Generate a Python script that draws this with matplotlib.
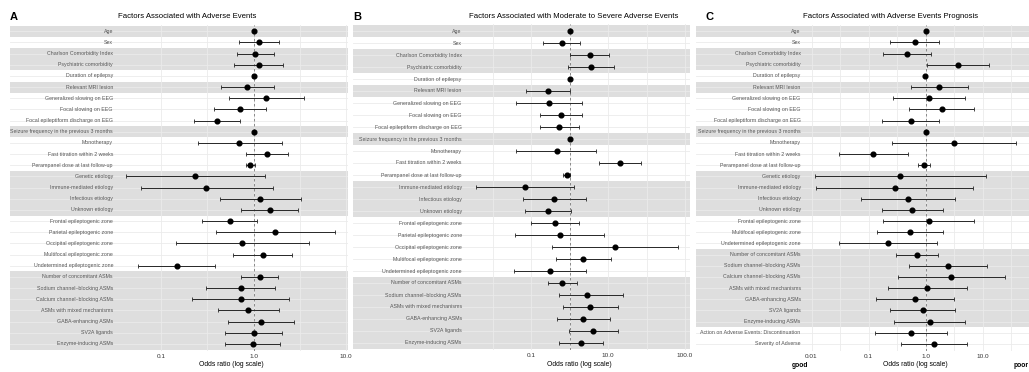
import matplotlib
matplotlib.use("Agg")
import matplotlib.pyplot as plt
import matplotlib.transforms as mtransforms
import numpy as np

plt.rcParams['font.family'] = ['Liberation Sans', 'DejaVu Sans']

# ---------------- Data ----------------
titles = ["Factors Associated with Adverse Events",
          "Factors Associated with Moderate to Severe Adverse Events",
          "Factors Associated with Adverse Events Prognosis"]
panel_letters = ["A", "B", "C"]

labels_A = ["Age", "Sex", "Charlson Comorbidity Index", "Psychiatric comorbidity",
            "Duration of epilepsy", "Relevant MRI lesion", "Generalized slowing on EEG",
            "Focal slowing on EEG", "Focal epileptiform discharge on EEG",
            "Seizure frequency in the previous 3 months", "Monotherapy",
            "Fast titration within 2 weeks", "Perampanel dose at last follow-up",
            "Genetic etiology", "Immune-mediated etiology", "Infectious etiology",
            "Unknown etiology", "Frontal epileptogenic zone", "Parietal epileptogenic zone",
            "Occipital epileptogenic zone", "Multifocal epileptogenic zone",
            "Undetermined epileptogenic zone", "Number of concomitant ASMs",
            "Sodium channel\u2013blocking ASMs", "Calcium channel\u2013blocking ASMs",
            "ASMs with mixed mechanisms", "GABA-enhancing ASMs", "SV2A ligands",
            "Enzyme-inducing ASMs"]
or_A = [1.00, 1.15, 1.04, 1.15, 1.00, 0.85, 1.37, 0.72, 0.40, 1.00, 0.70, 1.39, 0.92,
        0.235, 0.31, 1.18, 1.49, 0.56, 1.72, 0.76, 1.26, 0.150, 1.17, 0.73, 0.73, 0.87,
        1.22, 1.00, 0.98]
lo_A = [0.98, 0.69, 0.66, 0.62, 0.96, 0.44, 0.54, 0.37, 0.226, 0.98, 0.25, 0.83, 0.83,
        0.042, 0.061, 0.43, 0.73, 0.28, 0.39, 0.145, 0.60, 0.057, 0.73, 0.31, 0.218, 0.41,
        0.53, 0.49, 0.49]
hi_A = [1.02, 1.91, 1.65, 2.11, 1.05, 1.65, 3.48, 1.36, 0.72, 1.02, 2.03, 2.34, 1.04,
        1.32, 1.62, 3.26, 3.00, 1.10, 7.66, 3.97, 2.60, 0.385, 1.82, 1.70, 2.45, 1.90,
        2.76, 2.03, 1.95]
shaded_A = [1, 0, 1, 1, 0, 1, 0, 0, 0, 1, 0, 0, 0, 1, 1, 1, 1, 0, 0, 0, 0, 0,
            1, 1, 1, 1, 1, 1, 1]

labels_B = ["Age", "Sex", "Charlson Comorbidity Index", "Psychiatric comorbidity",
            "Duration of epilepsy", "Relevant MRI lesion", "Generalized slowing on EEG",
            "Focal slowing on EEG", "Focal epileptiform discharge on EEG",
            "Seizure frequency in the previous 3 months", "Monotherapy",
            "Fast titration within 2 weeks", "Perampanel dose at last follow-up",
            "Immune-mediated etiology", "Infectious etiology", "Unknown etiology",
            "Frontal epileptogenic zone", "Parietal epileptogenic zone",
            "Occipital epileptogenic zone", "Multifocal epileptogenic zone",
            "Undetermined epileptogenic zone", "Number of concomitant ASMs",
            "Sodium channel\u2013blocking ASMs", "ASMs with mixed mechanisms",
            "GABA-enhancing ASMs", "SV2A ligands", "Enzyme-inducing ASMs"]
or_B = [1.00, 0.64, 3.32, 3.67, 1.00, 0.28, 0.295, 0.60, 0.54, 1.00, 0.46, 21.0, 0.84,
        0.069, 0.40, 0.28, 0.42, 0.55, 15.0, 2.29, 0.31, 0.65, 2.78, 3.39, 2.29, 4.12, 1.99]
lo_B = [0.96, 0.21, 1.00, 0.94, 0.96, 0.073, 0.041, 0.167, 0.17, 0.96, 0.042, 5.9, 0.66,
        0.0038, 0.061, 0.069, 0.098, 0.038, 0.36, 0.45, 0.037, 0.28, 0.53, 0.66, 0.46,
        0.97, 0.52]
hi_B = [1.04, 1.84, 10.4, 14.0, 1.04, 1.06, 2.15, 2.15, 1.77, 1.04, 4.92, 74.0, 1.02,
        1.34, 2.62, 1.08, 1.77, 8.05, 650.0, 11.9, 2.62, 1.54, 24.7, 17.7, 11.5, 17.7, 7.6]
shaded_B = [1, 0, 1, 1, 0, 1, 0, 0, 0, 1, 0, 0, 0, 1, 1, 1, 0, 0, 0, 0, 0,
            1, 1, 1, 1, 1, 1]

labels_C = ["Age", "Sex", "Charlson Comorbidity Index", "Psychiatric comorbidity",
            "Duration of epilepsy", "Relevant MRI lesion", "Generalized slowing on EEG",
            "Focal slowing on EEG", "Focal epileptiform discharge on EEG",
            "Seizure frequency in the previous 3 months", "Monotherapy",
            "Fast titration within 2 weeks", "Perampanel dose at last follow-up",
            "Genetic etiology", "Immune-mediated etiology", "Infectious etiology",
            "Unknown etiology", "Frontal epileptogenic zone", "Multifocal epileptogenic zone",
            "Undetermined epileptogenic zone", "Number of concomitant ASMs",
            "Sodium channel\u2013blocking ASMs", "Calcium channel\u2013blocking ASMs",
            "ASMs with mixed mechanisms", "GABA-enhancing ASMs", "SV2A ligands",
            "Enzyme-inducing ASMs", "Action on Adverse Events: Discontinuation",
            "Severity of Adverse"]
or_C = [1.00, 0.66, 0.48, 3.76, 0.98, 1.75, 1.16, 1.93, 0.55, 1.00, 3.2, 0.12, 0.95,
        0.36, 0.29, 0.49, 0.59, 1.13, 0.53, 0.217, 0.71, 2.45, 2.8, 1.08, 0.66, 0.89,
        1.19, 0.555, 1.42]
lo_C = [0.97, 0.242, 0.183, 1.08, 0.95, 0.555, 0.27, 0.52, 0.175, 0.97, 0.26, 0.030,
        0.74, 0.0114, 0.0122, 0.074, 0.171, 0.178, 0.14, 0.030, 0.30, 0.52, 0.325, 0.223,
        0.138, 0.235, 0.284, 0.13, 0.37]
hi_C = [1.03, 1.75, 1.24, 13.1, 1.02, 5.55, 4.92, 7.16, 1.73, 1.03, 39.2, 0.485, 1.21,
        11.6, 6.78, 3.29, 2.06, 7.16, 2.06, 1.6, 1.64, 12.2, 25.2, 5.4, 3.16, 3.34, 4.85,
        2.42, 5.4]
shaded_C = [1, 0, 1, 1, 0, 1, 0, 0, 0, 1, 0, 0, 0, 1, 1, 1, 1, 0, 0, 0,
            1, 1, 1, 1, 1, 1, 1, 0, 0]

ticks_A = [0.1, 1, 10]
ticklabels_A = ["0.1", "1.0", "10.0"]
ticks_B = [0.1, 10, 1000]
ticklabels_B = ["0.1", "10.0", "100.0"]
ticks_C = [0.01, 0.1, 1, 10]
ticklabels_C = ["0.01", "0.1", "1.0", "10.0"]

grid_A = [0.1, 10**-0.5, 1, 10**0.5, 10]
grid_B = [0.01, 0.1, 1, 10, 100, 1000]
grid_C = [0.01, 10**-1.5, 0.1, 10**-0.5, 1, 10**0.5, 10, 10**1.5]

xlabel = "Odds ratio (log scale)"

# ---------------- Layout (pixels) ----------------
W, H = 1029, 372
fig = plt.figure(figsize=(W / 100, H / 100), dpi=100)

def fx(px):
    return px / W

def fy(py):
    return 1 - py / H

panels = [
    dict(labels=labels_A, orv=or_A, lo=lo_A, hi=hi_A, shaded=shaded_A,
         ticks=ticks_A, tl=ticklabels_A, grid=grid_A,
         x0=10, x1=348, y0=24.6, y1=350.7, one=253.5, dec=92.5, labx=113,
         title_x=187.6, letter_x=10, xlab_x=231),
    dict(labels=labels_B, orv=or_B, lo=lo_B, hi=hi_B, shaded=shaded_B,
         ticks=ticks_B, tl=ticklabels_B, grid=grid_B,
         x0=353, x1=690, y0=23.8, y1=350.2, one=569.5, dec=38.5, labx=461.7,
         title_x=574, letter_x=353, xlab_x=579),
    dict(labels=labels_C, orv=or_C, lo=lo_C, hi=hi_C, shaded=shaded_C,
         ticks=ticks_C, tl=ticklabels_C, grid=grid_C,
         x0=696, x1=1029, y0=24.6, y1=350.7, one=925.5, dec=57.0, labx=800.7,
         title_x=891, letter_x=706, xlab_x=915),
]

SHADE = '#DEDEDE'
GRID = '#EBEBEB'

for k, p in enumerate(panels):
    ax = fig.add_axes([fx(p['x0']), fy(p['y1']), fx(p['x1'] - p['x0']),
                       (p['y1'] - p['y0']) / H])
    n = len(p['labels'])
    ax.set_xscale('log')
    xmin = 10 ** ((p['x0'] - p['one']) / p['dec'])
    xmax = 10 ** ((p['x1'] - p['one']) / p['dec'])
    ax.set_xlim(xmin, xmax)
    ax.set_ylim(n + 0.6, 0.4)
    ys = np.arange(1, n + 1)

    for y, s in zip(ys, p['shaded']):
        if s:
            ax.axhspan(y - 0.5, y + 0.5, color=SHADE, lw=0, zorder=0)
    for y in ys:
        ax.axhline(y, color=GRID, lw=0.6, zorder=1)
    for g in p['grid']:
        ax.axvline(g, color=GRID, lw=0.6, zorder=1)
    ax.axvline(1, color='#7A7A7A', lw=0.6, ls=(0, (3, 3)), zorder=2)

    orv = np.array(p['orv'])
    lo = np.array(p['lo'])
    hi = np.array(p['hi'])
    ax.errorbar(orv, ys, xerr=[orv - lo, hi - orv], fmt='o', color='black',
                ecolor='#262626', elinewidth=0.7, capsize=1.4, capthick=0.6,
                markersize=3.4, zorder=3)

    trans = mtransforms.blended_transform_factory(ax.transAxes, ax.transData)
    labx = (p['labx'] - p['x0']) / (p['x1'] - p['x0'])
    for y, lab in zip(ys, p['labels']):
        ax.text(labx, y, lab, ha='right', va='center', fontsize=3.8,
                color='#555555', transform=trans, zorder=4)

    ax.set_xticks(p['ticks'])
    ax.set_xticklabels(p['tl'])
    ax.xaxis.set_minor_locator(matplotlib.ticker.NullLocator())
    ax.tick_params(axis='x', length=0, pad=2.2, labelsize=4.6, colors='#333333')
    ax.set_yticks([])
    for sp in ax.spines.values():
        sp.set_visible(False)
    ax.patch.set_alpha(0)

    fig.text(fx(p['title_x']), fy(16), titles[k], ha='center', va='center',
             fontsize=5.6, color='black')
    fig.text(fx(p['letter_x']), fy(17.5), panel_letters[k], ha='left', va='center',
             fontsize=8, fontweight='bold', color='black')
    fig.text(fx(p['xlab_x']), fy(364), xlabel, ha='center', va='center',
             fontsize=4.9, color='black')

fig.text(fx(792), fy(365.5), "good", ha='left', va='center', fontsize=4.9,
         fontweight='bold', color='black')
fig.text(fx(1014), fy(365.5), "poor", ha='left', va='center', fontsize=4.9,
         fontweight='bold', color='black')

fig.savefig("out.png", dpi=100)
